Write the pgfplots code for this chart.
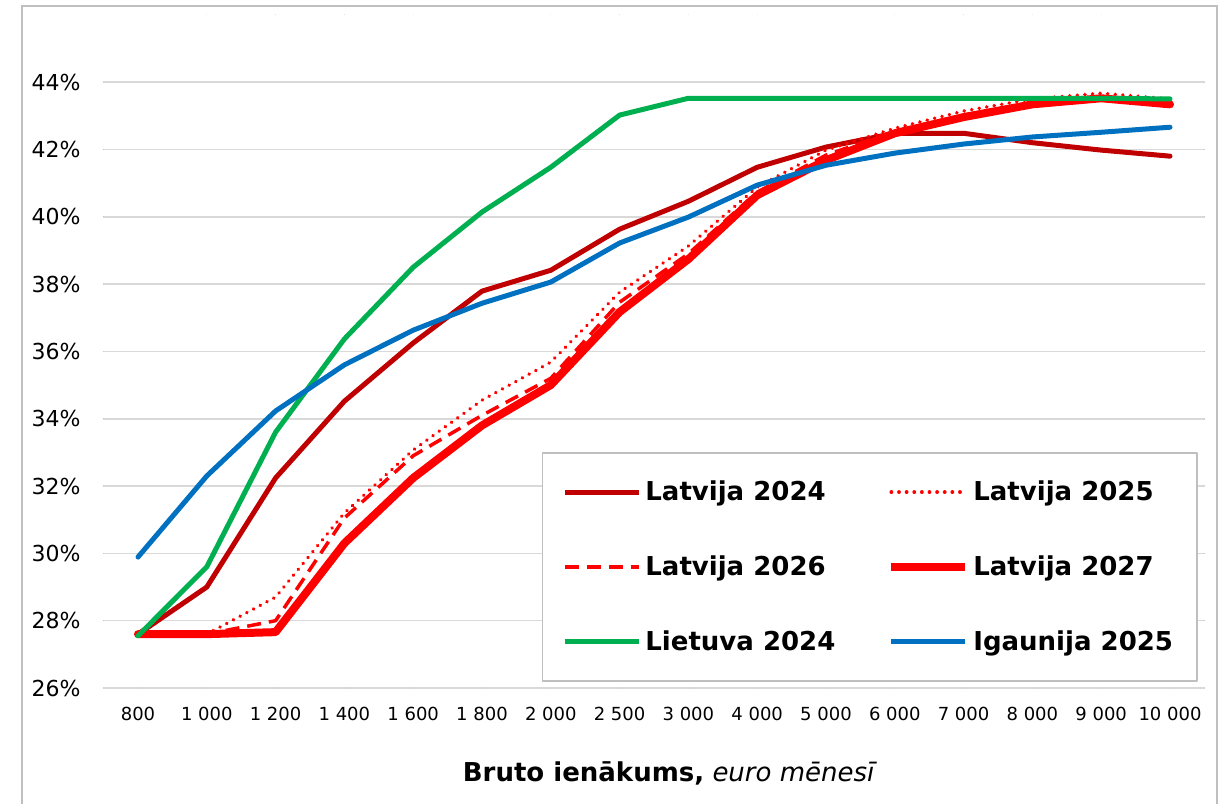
\documentclass[border=0pt]{standalone}
\usepackage{fontspec}
\setmainfont{DejaVu Sans}
\usepackage{pgfplots}
\pgfplotsset{compat=1.18}
\definecolor{darkred}{HTML}{C00000}
\definecolor{lvred}{HTML}{FF0000}
\definecolor{ltgreen}{HTML}{00B050}
\definecolor{eeblue}{HTML}{0070C0}
\definecolor{gridgray}{HTML}{D9D9D9}
\definecolor{framegray}{HTML}{BFBFBF}
\begin{document}
\begin{tikzpicture}
\useasboundingbox (-51.8pt,-57.5pt) rectangle (560.7pt,344pt);
\draw[framegray, line width=0.8pt] (-40.8pt,-60pt) -- (-40.8pt,341pt) -- (556.7pt,341pt) -- (556.7pt,-60pt);
\begin{axis}[
  at={(0,0)}, anchor=south west,
  scale only axis,
  width=550.4pt, height=336.6pt,
  xmin=-0.5, xmax=15.5,
  ymin=26, ymax=46,
  xtick={0,...,15},
  xticklabels={800,1 000,1 200,1 400,1 600,1 800,2 000,2 500,3 000,4 000,5 000,6 000,7 000,8 000,9 000,10 000},
  ytick={26,28,...,44},
  yticklabels={26\%,28\%,30\%,32\%,34\%,36\%,38\%,40\%,42\%,44\%},
  ymajorgrids,
  major grid style={gridgray, line width=0.8pt},
  axis line style={draw=none},
  major tick length=0pt,
  xticklabel style={font=\fontsize{9}{10}\selectfont, yshift=-6pt},
  yticklabel style={font=\fontsize{11}{13}\selectfont, xshift=-8pt},
  xlabel={\textbf{Bruto ienākums,} \textit{euro mēnesī}},
  xlabel style={at={(axis description cs:0.5,0)}, anchor=center, yshift=-42.5pt, xshift=8pt, font=\fontsize{13}{15}\selectfont},
  legend columns=2,
  legend cell align=left,
  legend style={at={(0.994,0.009)}, anchor=south east, draw=framegray, line width=0.8pt,
    font=\fontsize{13}{15}\selectfont\bfseries,
    inner xsep=10pt, inner ysep=12pt,
    /tikz/every even column/.append style={column sep=24pt},
    /tikz/row sep=22pt},
  legend image code/.code={\draw[#1] plot coordinates {(0pt,0pt) (37pt,0pt)};},
  line join=round, line cap=round,
  clip=false,
]
\addplot[darkred, line width=2.5pt] coordinates {
(0,27.6) (1,29.0) (2,32.24) (3,34.52) (4,36.25) (5,37.79) (6,38.41) (7,39.63) (8,40.46) (9,41.47) (10,42.07) (11,42.48) (12,42.48) (13,42.2) (14,41.98) (15,41.8)};
\addlegendentry{Latvija 2024}
\addplot[lvred, line width=1.9pt, dash pattern=on 0.01pt off 3.8pt, line cap=round] coordinates {
(0,27.6) (1,27.6) (2,28.7) (3,31.2) (4,33.07) (5,34.55) (6,35.68) (7,37.76) (8,39.13) (9,40.88) (10,41.98) (11,42.63) (12,43.14) (13,43.5) (14,43.67) (15,43.5)};
\addlegendentry{Latvija 2025}
\addplot[lvred, line width=1.75pt, dash pattern=on 7pt off 4pt, line cap=butt] coordinates {
(0,27.6) (1,27.6) (2,28.0) (3,31.05) (4,32.9) (5,34.1) (6,35.2) (7,37.46) (8,38.9) (9,40.73) (10,41.83) (11,42.54) (12,43.02) (13,43.37) (14,43.52) (15,43.37)};
\addlegendentry{Latvija 2026}
\addplot[lvred, line width=4pt] coordinates {
(0,27.6) (1,27.6) (2,27.66) (3,30.3) (4,32.24) (5,33.8) (6,35.0) (7,37.17) (8,38.74) (9,40.64) (10,41.68) (11,42.48) (12,42.96) (13,43.34) (14,43.52) (15,43.34)};
\addlegendentry{Latvija 2027}
\addplot[ltgreen, line width=2.5pt] coordinates {
(0,27.55) (1,29.6) (2,33.6) (3,36.37) (4,38.5) (5,40.14) (6,41.47) (7,43.02) (8,43.52) (9,43.52) (10,43.52) (11,43.52) (12,43.52) (13,43.52) (14,43.52) (15,43.5)};
\addlegendentry{Lietuva 2024}
\addplot[eeblue, line width=2.5pt] coordinates {
(0,29.89) (1,32.3) (2,34.23) (3,35.6) (4,36.63) (5,37.43) (6,38.06) (7,39.22) (8,39.99) (9,40.94) (10,41.53) (11,41.89) (12,42.16) (13,42.37) (14,42.51) (15,42.66)};
\addlegendentry{Igaunija 2025}
\end{axis}
\end{tikzpicture}
\end{document}
